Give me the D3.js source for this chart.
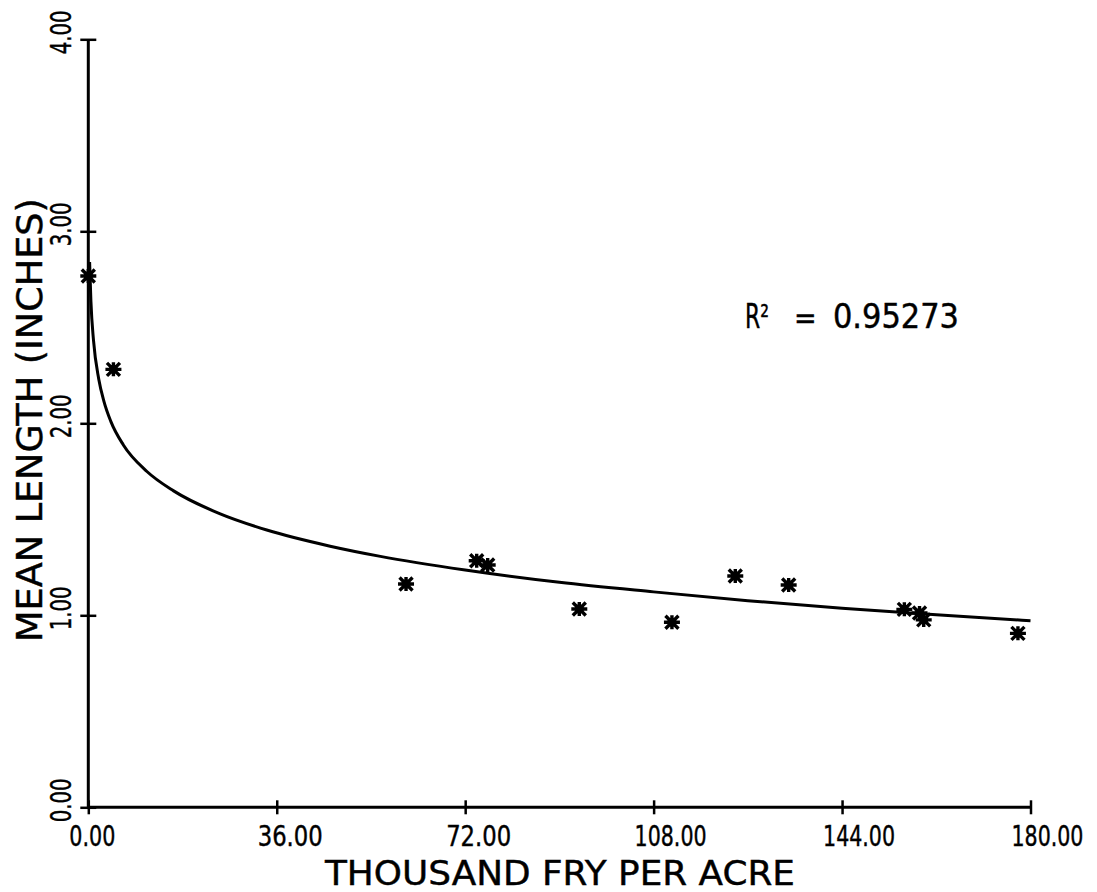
<!DOCTYPE html>
<html>
<head>
<meta charset="utf-8">
<script src="https://cdn.jsdelivr.net/npm/d3@7"></script>
<style>
  html, body { margin: 0; padding: 0; background: #fff; }
  svg { display: block; }
  text { font-family: "DejaVu Sans Condensed", "DejaVu Sans", sans-serif; fill: #000; stroke: #000; stroke-width: 0.4; }
</style>
</head>
<body>
<svg id="chart" width="1097" height="892"></svg>
<script>
// ---- data ----
const xTicks = [0, 36, 72, 108, 144, 180];
const yTicks = [0, 1, 2, 3, 4];
const xTickLabels = ["0.00", "36.00", "72.00", "108.00", "144.00", "180.00"];
const yTickLabels = ["0.00", "1.00", "2.00", "3.00", "4.00"];

// observed points: thousand fry per acre vs mean length (inches)
const obsDensity = [0, 4.8, 60.7, 74.2, 76.3, 93.8, 111.5, 123.6, 133.8, 155.9, 158.8, 159.6, 177.6];
const obsLength  = [2.767, 2.281, 1.163, 1.284, 1.262, 1.033, 0.964, 1.205, 1.158, 1.031, 1.012, 0.976, 0.906];

// fitted curve
const fitDensity = [0.25, 0.5, 1, 2, 3, 4.3, 6.7, 11.2, 16.3, 25.2, 34.1, 46.2, 55.8, 72, 90, 108, 126, 144, 162, 180];
const fitLength  = [2.84, 2.635, 2.43, 2.23, 2.113, 2.01, 1.887, 1.749, 1.648, 1.528, 1.444, 1.360, 1.307, 1.236, 1.172, 1.122, 1.076, 1.037, 1.003, 0.972];

const xTitle = "THOUSAND FRY PER ACRE";
const yTitle = "MEAN LENGTH (INCHES)";
const rLabel = "R²";
const rEq = "=";
const rValue = "0.95273";

// ---- drawing ----
const svg = d3.select("#chart");
const x = d3.scaleLinear().domain([0, 180]).range([88.3, 1030.5]);
const y = d3.scaleLinear().domain([0, 4]).range([807.3, 39.3]);

const ink = "#000";

// helper: text squeezed horizontally to a target width using a real transform
function fitText(g, str, size, width, tx, ty, rot) {
  const t = g.append("text").attr("font-size", size).text(str);
  const nat = t.node().getComputedTextLength() || width;
  const s = width / nat;
  t.attr("transform", `translate(${tx},${ty})${rot ? ` rotate(${rot})` : ""} scale(${s},1)`);
  return t;
}

// fitted curve
const line = d3.line()
  .x((d, i) => x(fitDensity[i]))
  .y((d, i) => y(fitLength[i]))
  .curve(d3.curveMonotoneX);
svg.append("path")
  .attr("d", line(fitDensity))
  .attr("fill", "none")
  .attr("stroke", ink)
  .attr("stroke-width", 3)
  .attr("stroke-linejoin", "round");

// x axis
const gx = svg.append("g").attr("transform", `translate(0,${y(0)})`)
  .call(d3.axisBottom(x).tickValues(xTicks).tickSize(7).tickFormat(""));
gx.select(".domain").attr("stroke", ink).attr("stroke-width", 3).attr("d", `M${x(0)},0H${x(180)}`);
gx.selectAll(".tick line").attr("stroke", ink).attr("stroke-width", 2.5).attr("y1", -7).attr("y2", 7);

// y axis
const gy = svg.append("g").attr("transform", `translate(${x(0)},0)`)
  .call(d3.axisLeft(y).tickValues(yTicks).tickSize(8).tickFormat(""));
gy.select(".domain").attr("stroke", ink).attr("stroke-width", 3).attr("d", `M0,${y(0)}V${y(4)}`);
gy.selectAll(".tick line").attr("stroke", ink).attr("stroke-width", 2.5).attr("x1", 8).attr("x2", -8);

// tick labels
const labelLen = s => s.length <= 4 ? 46 : (s.length === 5 ? 65 : 72);
const gxl = svg.append("g");
xTicks.forEach((d, i) => fitText(gxl, xTickLabels[i], 28, labelLen(xTickLabels[i]), x(d) - 19, 846, 0));

const gyl = svg.append("g");
yTicks.forEach((d, i) => fitText(gyl, yTickLabels[i], 28, 44, 71, y(d) + 15, -90));

// axis titles
fitText(svg, xTitle, 34, 470, 325, 885, 0);
fitText(svg, yTitle, 36, 444, 42, 642, -90);

// R^2 annotation
fitText(svg, rLabel, 33, 24, 745, 328, 0);
svg.append("text").attr("x", 794).attr("y", 328).attr("font-size", 30).text(rEq);
fitText(svg, rValue, 33, 126, 833, 328, 0);

// asterisk markers
const star = (cx, cy) => {
  const p = d3.path();
  const r = 8, h = 7, dg = 6.5;
  p.moveTo(cx - r, cy); p.lineTo(cx + r, cy);
  p.moveTo(cx, cy - h); p.lineTo(cx, cy + h);
  p.moveTo(cx - dg, cy - dg); p.lineTo(cx + dg, cy + dg);
  p.moveTo(cx - dg, cy + dg); p.lineTo(cx + dg, cy - dg);
  return p.toString();
};
const gm = svg.append("g");
gm.selectAll("path").data(obsDensity).join("path")
  .attr("d", (d, i) => star(x(d), y(obsLength[i])))
  .attr("stroke", ink)
  .attr("stroke-width", 3.4)
  .attr("fill", "none");
gm.selectAll("circle").data(obsDensity).join("circle")
  .attr("cx", d => x(d))
  .attr("cy", (d, i) => y(obsLength[i]))
  .attr("r", 4.5)
  .attr("fill", ink);
</script>
</body>
</html>
